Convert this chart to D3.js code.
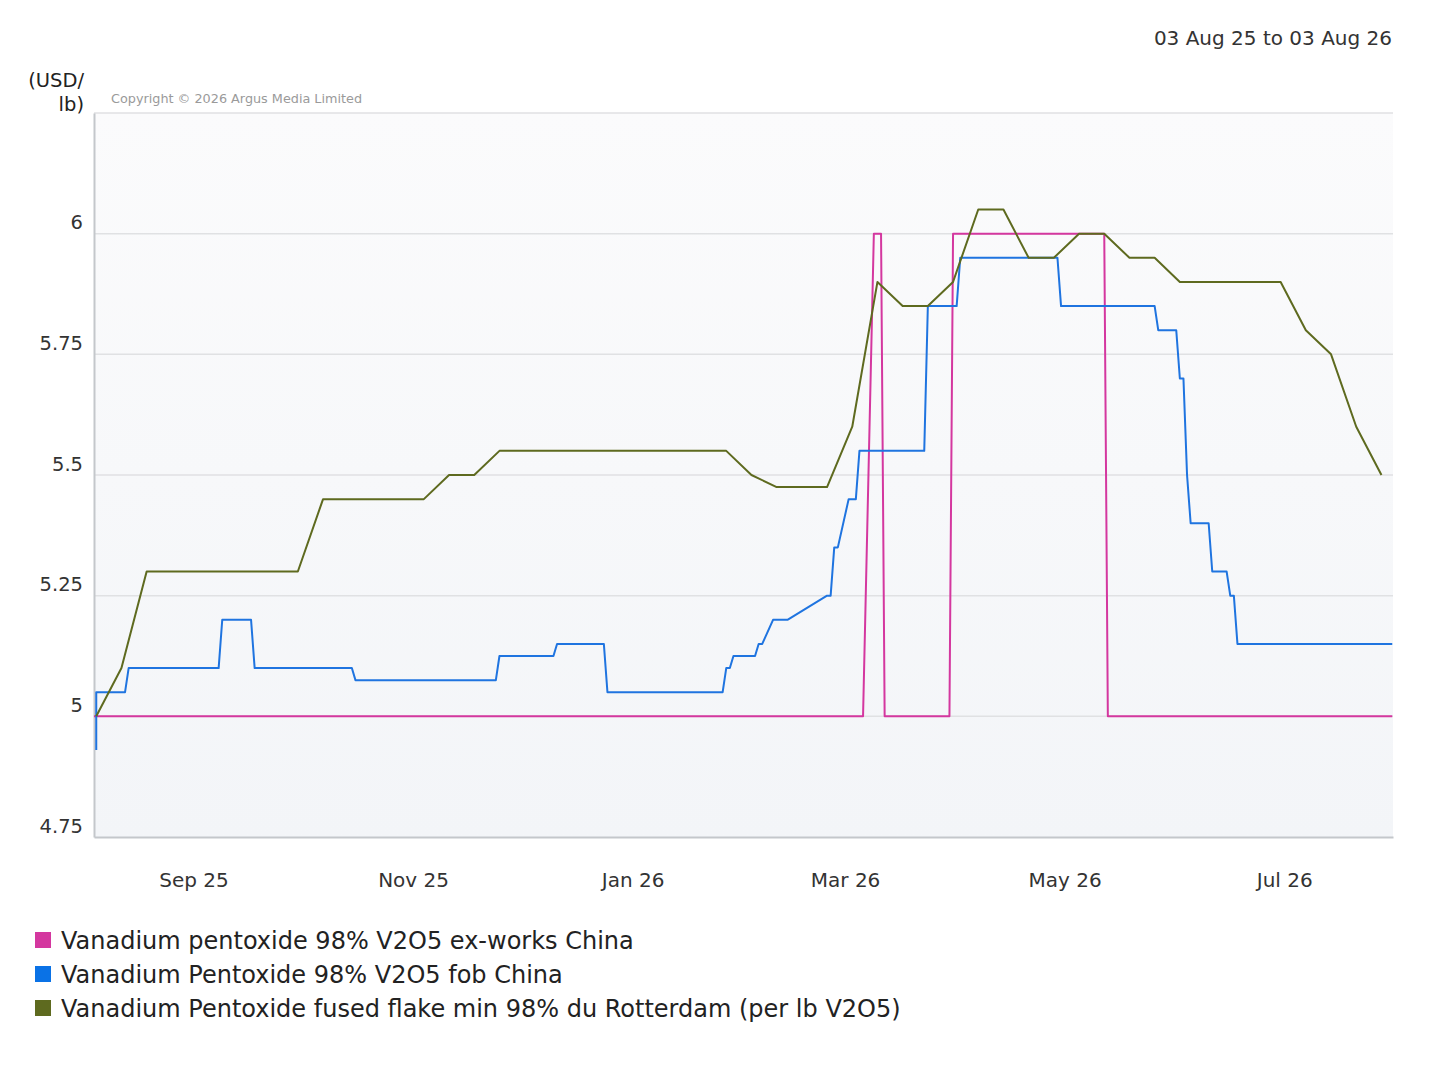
<!DOCTYPE html>
<html>
<head>
<meta charset="utf-8">
<script src="https://cdn.jsdelivr.net/npm/d3@7"></script>
<style>
  body { margin: 0; background: #fff; }
  svg { display: block; font-family: "DejaVu Sans", sans-serif; }
</style>
</head>
<body>
<svg id="chart" width="1432" height="1065"></svg>
<script>
// ---------- data ----------
const xDomain = ["2025-08-04T09:00", "2026-07-31T05:00"];
const yDomain = [4.75, 6.25];
const yTicks = [4.75, 5, 5.25, 5.5, 5.75, 6];
const yTickLabels = ["4.75", "5", "5.25", "5.5", "5.75", "6"];
const xTicks = ["2025-09-01", "2025-11-01", "2026-01-01", "2026-03-01", "2026-05-01", "2026-07-01"];
const xTickLabels = ["Sep 25", "Nov 25", "Jan 26", "Mar 26", "May 26", "Jul 26"];

const seriesNames = [
  "Vanadium pentoxide 98% V2O5 ex-works China",
  "Vanadium Pentoxide 98% V2O5 fob China",
  "Vanadium Pentoxide fused flake min 98% du Rotterdam (per lb V2O5)"
];
const seriesColors = ["#d4379f", "#1f74e0", "#5e6a1f"];
const legendColors = ["#d4379f", "#0a72e6", "#5e6a1f"];

const pinkDates = ["2025-08-04","2026-03-06","2026-03-09","2026-03-11","2026-03-12","2026-03-30","2026-03-31","2026-05-12","2026-05-13","2026-07-31"];
const pinkValues = [5, 5, 6, 6, 5, 5, 6, 6, 5, 5];

const blueDates = ["2025-08-05","2025-08-05","2025-08-13","2025-08-14","2025-09-08","2025-09-09","2025-09-17","2025-09-18",
  "2025-10-15","2025-10-16","2025-11-24","2025-11-25","2025-12-10","2025-12-11","2025-12-24","2025-12-25",
  "2026-01-26","2026-01-27","2026-01-28","2026-01-29","2026-02-04","2026-02-05","2026-02-06","2026-02-09",
  "2026-02-13","2026-02-24","2026-02-25","2026-02-26","2026-02-27","2026-03-02","2026-03-04","2026-03-05",
  "2026-03-23","2026-03-24","2026-04-01","2026-04-02","2026-04-29","2026-04-30","2026-05-26","2026-05-27",
  "2026-06-01","2026-06-02","2026-06-03","2026-06-04","2026-06-05","2026-06-10","2026-06-11","2026-06-15",
  "2026-06-16","2026-06-17","2026-06-18","2026-07-31"];
const blueValues = [4.93, 5.05, 5.05, 5.10, 5.10, 5.20, 5.20, 5.10,
  5.10, 5.075, 5.075, 5.125, 5.125, 5.15, 5.15, 5.05,
  5.05, 5.10, 5.10, 5.125, 5.125, 5.15, 5.15, 5.20,
  5.20, 5.25, 5.25, 5.35, 5.35, 5.45, 5.45, 5.55,
  5.55, 5.85, 5.85, 5.95, 5.95, 5.85, 5.85, 5.80,
  5.80, 5.70, 5.70, 5.50, 5.40, 5.40, 5.30, 5.30,
  5.25, 5.25, 5.15, 5.15];

const greenDates = ["2025-08-05","2025-08-12","2025-08-19","2025-09-30","2025-10-07","2025-11-04","2025-11-11","2025-11-18",
  "2025-11-25","2026-01-27","2026-02-03","2026-02-10","2026-02-24","2026-03-03","2026-03-10","2026-03-17",
  "2026-03-24","2026-03-31","2026-04-07","2026-04-14","2026-04-21","2026-04-28","2026-05-05","2026-05-12",
  "2026-05-19","2026-05-26","2026-06-02","2026-06-30","2026-07-07","2026-07-14","2026-07-21","2026-07-28"];
const greenValues = [5.00, 5.10, 5.30, 5.30, 5.45, 5.45, 5.50, 5.50,
  5.55, 5.55, 5.50, 5.475, 5.475, 5.60, 5.90, 5.85,
  5.85, 5.90, 6.05, 6.05, 5.95, 5.95, 6.00, 6.00,
  5.95, 5.95, 5.90, 5.90, 5.80, 5.75, 5.60, 5.50];

// ---------- layout ----------
const plot = { left: 94, right: 1393, top: 113, bottom: 837 };
const parseDay = d3.timeParse("%Y-%m-%d");
const parseDT = d3.timeParse("%Y-%m-%dT%H:%M");

const x = d3.scaleTime().domain(xDomain.map(parseDT)).range([plot.left, plot.right]);
const y = d3.scaleLinear().domain(yDomain).range([plot.bottom, plot.top]);

const svg = d3.select("#chart");
const defs = svg.append("defs");
const grad = defs.append("linearGradient").attr("id", "bg").attr("x1", 0).attr("y1", 0).attr("x2", 0).attr("y2", 1);
grad.append("stop").attr("offset", "0%").attr("stop-color", "#fbfbfc");
grad.append("stop").attr("offset", "100%").attr("stop-color", "#f3f5f8");
defs.append("clipPath").attr("id", "clip").append("rect")
  .attr("x", plot.left).attr("y", plot.top - 5)
  .attr("width", plot.right - plot.left).attr("height", plot.bottom - plot.top + 5);

svg.append("rect").attr("x", plot.left).attr("y", plot.top)
  .attr("width", plot.right - plot.left).attr("height", plot.bottom - plot.top)
  .attr("fill", "url(#bg)");

// grid lines (including top border)
const gridVals = yTicks.filter(v => v > yDomain[0]).concat([yDomain[1]]);
svg.append("g").selectAll("line").data(gridVals).join("line")
  .attr("x1", plot.left).attr("x2", plot.right)
  .attr("y1", d => y(d)).attr("y2", d => y(d))
  .attr("stroke", "#e0e1e3").attr("stroke-width", 1.5);

// axes
const yAxis = d3.axisLeft(y).tickValues(yTicks).tickSize(0).tickPadding(0)
  .tickFormat((d, i) => yTickLabels[i]);
const gy = svg.append("g").attr("transform", `translate(${plot.left},0)`).call(yAxis);
gy.select(".domain").attr("stroke", "#c4c7cb").attr("stroke-width", 2);
gy.selectAll("text").attr("x", -11).attr("dy", "0.35em").attr("y", -11.5)
  .attr("font-size", 19.5).attr("fill", "#333").attr("font-family", "DejaVu Sans");

const xAxis = d3.axisBottom(x).tickValues(xTicks.map(parseDay)).tickSize(0).tickPadding(0)
  .tickFormat((d, i) => xTickLabels[i]);
const gx = svg.append("g").attr("transform", `translate(0,${plot.bottom})`).call(xAxis);
gx.select(".domain").attr("stroke", "#c4c7cb").attr("stroke-width", 2);
gx.selectAll("text").attr("y", 50).attr("dy", 0)
  .attr("font-size", 20).attr("fill", "#333").attr("font-family", "DejaVu Sans");

// lines
const line = d3.line().x(d => x(d.date)).y(d => y(d.value)).curve(d3.curveLinear);
const makeSeries = (dates, values) => dates.map((d, i) => ({ date: parseDay(d), value: values[i] }));
const series = [
  makeSeries(pinkDates, pinkValues),
  makeSeries(blueDates, blueValues),
  makeSeries(greenDates, greenValues)
];
const lines = svg.append("g").attr("clip-path", "url(#clip)");
series.forEach((s, i) => {
  lines.append("path").datum(s).attr("d", line)
    .attr("fill", "none").attr("stroke", seriesColors[i])
    .attr("stroke-width", 2).attr("stroke-linejoin", "round");
});

// texts
svg.append("text").attr("x", 1392).attr("y", 45).attr("text-anchor", "end")
  .attr("font-size", 20).attr("fill", "#333").text("03 Aug 25 to 03 Aug 26");
svg.append("text").attr("x", 84).attr("y", 87).attr("text-anchor", "end")
  .attr("font-size", 19.5).attr("fill", "#222").text("(USD/");
svg.append("text").attr("x", 84).attr("y", 111).attr("text-anchor", "end")
  .attr("font-size", 19.5).attr("fill", "#222").text("lb)");
svg.append("text").attr("x", 111).attr("y", 103)
  .attr("font-size", 12.8).attr("fill", "#9a9a9a").text("Copyright © 2026 Argus Media Limited");

// legend
const legend = svg.append("g");
seriesNames.forEach((name, i) => {
  const cy = 940 + i * 34;
  legend.append("rect").attr("x", 35).attr("y", cy - 8).attr("width", 16).attr("height", 16)
    .attr("fill", legendColors[i]);
  legend.append("text").attr("x", 61).attr("y", cy + 8.5)
    .attr("font-size", 24).attr("fill", "#222").text(name);
});
</script>
</body>
</html>
